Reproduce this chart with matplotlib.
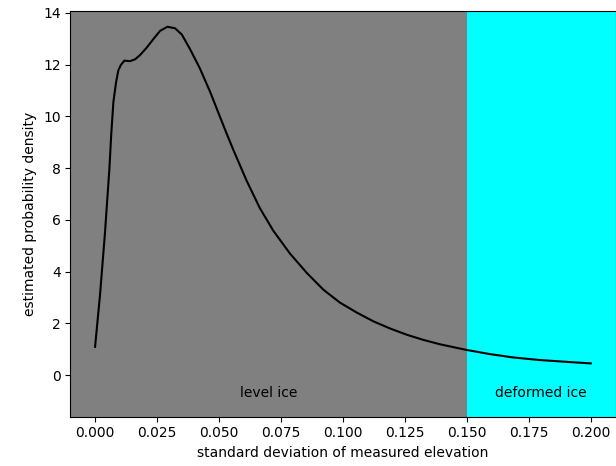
import numpy as np
import matplotlib
matplotlib.use('Agg')
import matplotlib.pyplot as plt

# values
sigma = [0.000, 0.002, 0.004, 0.0058, 0.0065, 0.0074, 0.0085, 0.0094, 0.0104,
         0.0118, 0.0141, 0.0161, 0.0181, 0.0208, 0.0235, 0.0262, 0.0292,
         0.0323, 0.035, 0.0383, 0.0423, 0.0464, 0.0504, 0.0531, 0.0558,
         0.0612, 0.0665, 0.0719, 0.0786, 0.0854, 0.0921, 0.0988, 0.1055,
         0.1122, 0.119, 0.1257, 0.1324, 0.1391, 0.1499, 0.1593, 0.1687,
         0.1794, 0.1902, 0.200]
density = [1.09, 3.1, 5.5, 8.0, 9.27, 10.56, 11.33, 11.78, 11.98,
           12.15, 12.13, 12.2, 12.36, 12.65, 12.98, 13.3, 13.46,
           13.4, 13.16, 12.6, 11.85, 10.95, 9.98, 9.33, 8.7,
           7.5, 6.45, 5.58, 4.7, 3.95, 3.3, 2.8, 2.42,
           2.08, 1.8, 1.56, 1.36, 1.19, 0.97, 0.81, 0.68,
           0.58, 0.51, 0.45]
threshold = 0.15
region_labels = ['level ice', 'deformed ice']
region_label_x = [0.07, 0.18]


fig = plt.figure(figsize=(6.16, 4.66), dpi=100)
ax = fig.add_axes([0.1141, 0.1058, 0.8851, 0.8712])

xmin, xmax = -0.01, 0.21
ax.axvspan(xmin, threshold, color='gray', lw=0)
ax.axvspan(threshold, xmax, color='cyan', lw=0)
ax.plot(sigma, density, color='black')

for lx, lab in zip(region_label_x, region_labels):
    ax.text(lx, -0.86, lab, ha='center', va='baseline', fontsize=10)

ax.set_xlim(xmin, xmax)
ax.set_ylim(-1.61, 14.08)
ax.set_xticks(np.arange(0, 0.201, 0.025))
ax.set_yticks(np.arange(0, 15, 2))
ax.set_xlabel('standard deviation of measured elevation')
ax.set_ylabel('estimated probability density')

fig.savefig('out.png', dpi=100)
